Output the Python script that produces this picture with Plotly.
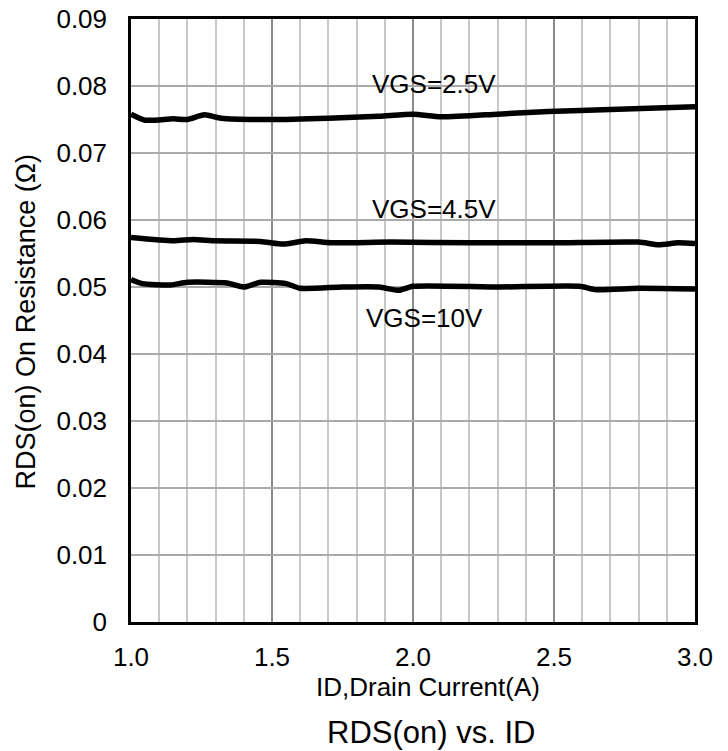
import plotly.graph_objects as go

# Data
id_25 = [1.00, 1.05, 1.15, 1.20, 1.26, 1.32, 1.50, 1.70, 1.88, 2.00, 2.10, 2.30, 2.48, 2.70, 3.00]
r_25 = [0.0758, 0.0749, 0.0751, 0.0750, 0.0757, 0.0752, 0.0750, 0.0752, 0.0755, 0.0758, 0.0754, 0.0758, 0.0762, 0.0765, 0.0769]

id_45 = [1.00, 1.15, 1.22, 1.30, 1.46, 1.54, 1.62, 1.71, 1.92, 2.20, 2.50, 2.80, 2.87, 2.94, 3.00]
r_45 = [0.0574, 0.0569, 0.0571, 0.0569, 0.0568, 0.0564, 0.0569, 0.0566, 0.0567, 0.0566, 0.0566, 0.0567, 0.0563, 0.0566, 0.0565]

id_10 = [1.00, 1.04, 1.14, 1.20, 1.34, 1.40, 1.46, 1.55, 1.60, 1.75, 1.88, 1.95, 2.00, 2.30, 2.59, 2.65, 2.80, 3.00]
r_10 = [0.0511, 0.0505, 0.0503, 0.0507, 0.0506, 0.0500, 0.0507, 0.0505, 0.0498, 0.0500, 0.0500, 0.0495, 0.0501, 0.0500, 0.0501, 0.0496, 0.0498, 0.0497]

y_ticks = [0, 0.01, 0.02, 0.03, 0.04, 0.05, 0.06, 0.07, 0.08, 0.09]
y_tick_labels = ["0", "0.01", "0.02", "0.03", "0.04", "0.05", "0.06", "0.07", "0.08", "0.09"]
x_ticks = [1.0, 1.5, 2.0, 2.5, 3.0]
x_tick_labels = ["1.0", "1.5", "2.0", "2.5", "3.0"]

labels = ["VGS=2.5V", "VGS=4.5V", "VGS=10V"]
label_x = [2.073, 2.073, 2.039]
label_y = [0.0803, 0.0616, 0.0454]

x_title = "ID,Drain Current(A)"
y_title = "RDS(on) On Resistance (Ω)"
chart_title = "RDS(on) vs. ID"

FONT = "Liberation Sans, Arial, sans-serif"

fig = go.Figure()
for xs, ys in [(id_25, r_25), (id_45, r_45), (id_10, r_10)]:
    fig.add_trace(go.Scatter(x=xs, y=ys, mode="lines",
                             line=dict(color="black", width=5.5, shape="spline", smoothing=0.6),
                             showlegend=False, hoverinfo="skip"))

for t, xx, yy in zip(labels, label_x, label_y):
    fig.add_annotation(x=xx, y=yy, text=t, showarrow=False, xref="x", yref="y",
                       xanchor="center", yanchor="middle",
                       font=dict(family=FONT, size=26, color="black"))

fig.add_annotation(text=x_title, x=0.5266, xref="paper", y=-0.107, yref="paper",
                   showarrow=False, xanchor="center", yanchor="middle",
                   font=dict(family=FONT, size=26, color="black"))
fig.add_annotation(text=chart_title, x=0.532, xref="paper", y=-0.184, yref="paper",
                   showarrow=False, xanchor="center", yanchor="middle",
                   font=dict(family=FONT, size=31, color="black"))
fig.add_annotation(text=y_title, x=-0.186, xref="paper", y=0.497, yref="paper",
                   showarrow=False, xanchor="center", yanchor="middle", textangle=-90,
                   font=dict(family=FONT, size=27, color="black"))

fig.update_layout(
    width=728, height=751,
    margin=dict(l=131, r=33, t=19, b=129, autoexpand=False),
    paper_bgcolor="white", plot_bgcolor="white",
    font=dict(family=FONT, color="black"),
    xaxis=dict(range=[1.0, 3.0], tickvals=x_ticks, ticktext=x_tick_labels,
               automargin=False,
               showline=True, linecolor="black", linewidth=2.5, mirror=True,
               showgrid=True, gridcolor="#8a8a8a", gridwidth=2,
               minor=dict(dtick=0.1, showgrid=True, gridcolor="#c8c8c8", gridwidth=2),
               ticks="", ticklabelstandoff=10, tickfont=dict(size=26, family=FONT),
               zeroline=False),
    yaxis=dict(range=[0, 0.09], tickvals=y_ticks, ticktext=y_tick_labels,
               automargin=False,
               showline=True, linecolor="black", linewidth=2.5, mirror=True,
               showgrid=True, gridcolor="#aaaaaa", gridwidth=2,
               ticks="", ticklabelstandoff=16, tickfont=dict(size=26, family=FONT),
               zeroline=False),
)

fig.write_html("out.html",
               config={"displayModeBar": False},
               post_script="document.body.style.margin='0px';document.body.style.overflow='hidden';")
